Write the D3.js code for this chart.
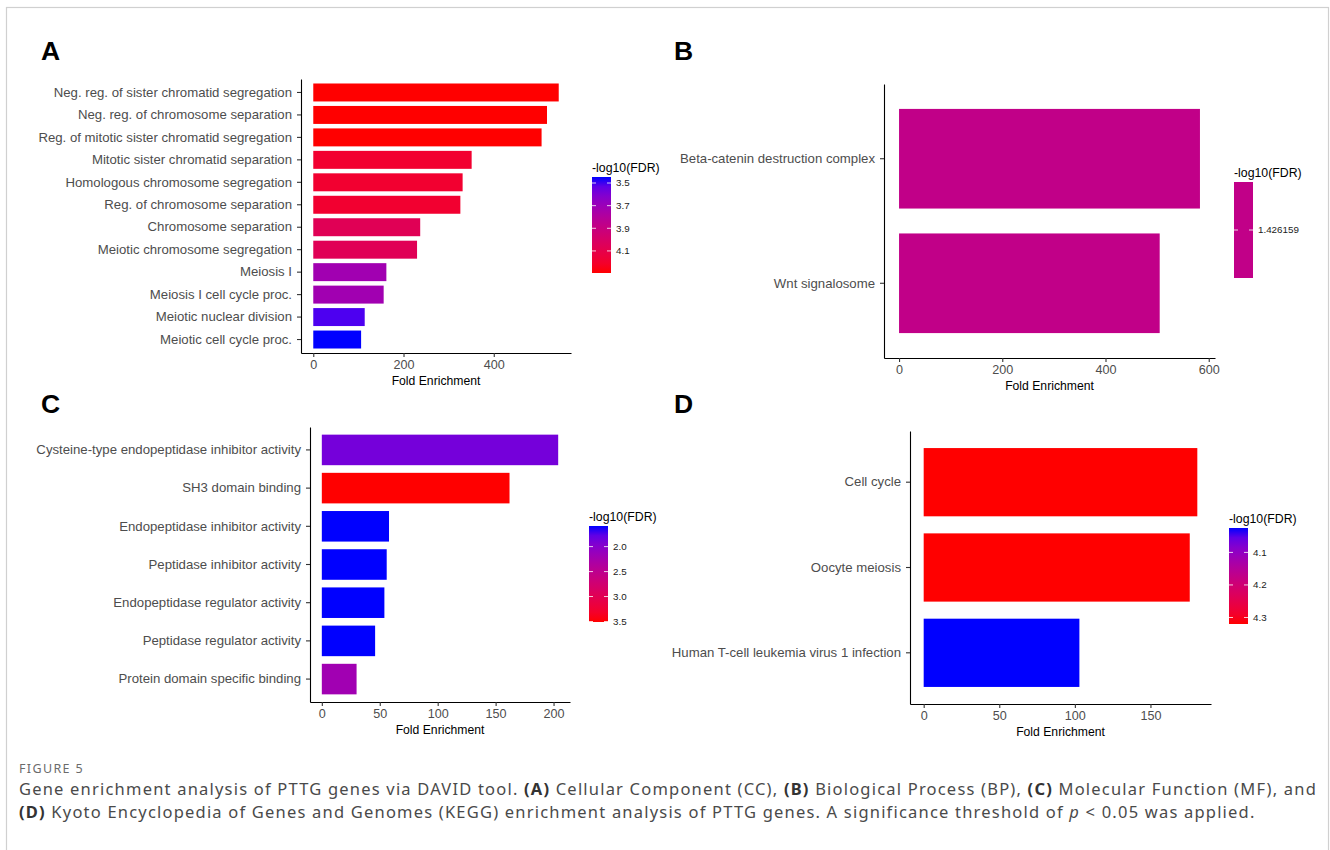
<!DOCTYPE html>
<html>
<head>
<meta charset="utf-8">
<script src="https://cdn.jsdelivr.net/npm/d3@7"></script>
<style>
body { margin: 0; background: #fff; }
svg text { font-family: "Liberation Sans", Arial, Helvetica, sans-serif; }
.caption text { font-family: "Noto Sans", "Open Sans", sans-serif; }
</style>
</head>
<body>
<svg id="fig" width="1330" height="850"></svg>
<script>
// ---- data ----
// A: Cellular Component
const catsA = ["Neg. reg. of sister chromatid segregation", "Neg. reg. of chromosome separation",
  "Reg. of mitotic sister chromatid segregation", "Mitotic sister chromatid separation",
  "Homologous chromosome segregation", "Reg. of chromosome separation", "Chromosome separation",
  "Meiotic chromosome segregation", "Meiosis I", "Meiosis I cell cycle proc.",
  "Meiotic nuclear division", "Meiotic cell cycle proc."];
const foldA = [544, 518, 506, 351, 331, 326, 237, 230, 162, 156, 114, 106];
const fdrA = [4.295, 4.295, 4.295, 4.19, 4.19, 4.19, 4.06, 4.06, 3.72, 3.72, 3.50, 3.447];
const ticksA = [0, 200, 400];
const legTicksA = [3.5, 3.7, 3.9, 4.1];

// B: Biological Process
const catsB = ["Beta-catenin destruction complex", "Wnt signalosome"];
const foldB = [583, 505];
const fdrB = [1.426159, 1.426159];
const ticksB = [0, 200, 400, 600];
const legTicksB = [1.426159];

// C: Molecular Function
const catsC = ["Cysteine-type endopeptidase inhibitor activity", "SH3 domain binding",
  "Endopeptidase inhibitor activity", "Peptidase inhibitor activity",
  "Endopeptidase regulator activity", "Peptidase regulator activity",
  "Protein domain specific binding"];
const foldC = [204, 162, 58, 56, 54, 46, 30];
const fdrC = [1.88, 3.51, 1.587, 1.587, 1.587, 1.587, 2.2];
const ticksC = [0, 50, 100, 150, 200];
const legTicksC = [2.0, 2.5, 3.0, 3.5];

// D: KEGG
const catsD = ["Cell cycle", "Oocyte meiosis", "Human T-cell leukemia virus 1 infection"];
const foldD = [181, 176, 103];
const fdrD = [4.32, 4.32, 4.025];
const ticksD = [0, 50, 100, 150];
const legTicksD = [4.1, 4.2, 4.3];

// panel layout (pixels on the page)
const panels = [
  {id: "A", cats: catsA, fold: foldA, fdr: fdrA, ticks: ticksA, legTicks: legTicksA,
   left: 301, right: 571, top: 79, bottom: 353, lx: 41, ly: 60, legX: 592, legTop: 177},
  {id: "B", cats: catsB, fold: foldB, fdr: fdrB, ticks: ticksB, legTicks: legTicksB,
   left: 884, right: 1215, top: 84, bottom: 358, lx: 674, ly: 60, legX: 1234, legTop: 182},
  {id: "C", cats: catsC, fold: foldC, fdr: fdrC, ticks: ticksC, legTicks: legTicksC,
   left: 310, right: 570, top: 427, bottom: 702, lx: 41, ly: 413, legX: 589, legTop: 526},
  {id: "D", cats: catsD, fold: foldD, fdr: fdrD, ticks: ticksD, legTicks: legTicksD,
   left: 910, right: 1211, top: 431, bottom: 704, lx: 674, ly: 413, legX: 1229, legTop: 528}
];

const svg = d3.select("#fig");
const defs = svg.append("defs");

// light frame around the figure
svg.append("rect")
  .attr("x", 6.5).attr("y", 7.5)
  .attr("width", 1322).attr("height", 900)
  .attr("fill", "none").attr("stroke", "#d0d0d0").attr("stroke-width", 1.2);

const drawPanel = function (p) {
  const g = svg.append("g").attr("class", "panel-" + p.id);

  const y = d3.scaleBand()
    .domain(p.cats)
    .range([p.top, p.bottom])
    .paddingInner(0.2)
    .paddingOuter(0.2);

  const m = d3.max(p.fold);
  const x = d3.scaleLinear()
    .domain([-0.05 * m, 1.05 * m])
    .range([p.left, p.right]);

  const color = d3.scaleLinear()
    .domain(d3.extent(p.fdr))
    .range(["blue", "red"])
    .interpolate(d3.interpolateLab);

  // bars
  g.selectAll("rect.bar")
    .data(p.cats)
    .join("rect")
    .attr("class", "bar")
    .attr("x", x(0))
    .attr("y", d => y(d))
    .attr("width", (d, i) => x(p.fold[i]) - x(0))
    .attr("height", y.bandwidth())
    .attr("fill", (d, i) => color(p.fdr[i]));

  // y axis
  const yAx = g.append("g")
    .attr("transform", `translate(${p.left},0)`)
    .call(d3.axisLeft(y).tickSize(4).tickPadding(5).tickSizeOuter(0));
  yAx.select(".domain").attr("stroke", "#000").attr("stroke-width", 1.1);
  yAx.selectAll(".tick line").attr("stroke", "#333").attr("stroke-width", 1.1);
  yAx.selectAll(".tick text")
    .attr("fill", "#4d4d4d")
    .style("font-size", "13.2px")
    .style("font-family", '"Liberation Sans", Arial, sans-serif');

  // x axis
  const xAx = g.append("g")
    .attr("transform", `translate(0,${p.bottom})`)
    .call(d3.axisBottom(x).tickValues(p.ticks).tickSize(4).tickPadding(3).tickSizeOuter(0));
  xAx.select(".domain").attr("stroke", "#000").attr("stroke-width", 1.1);
  xAx.selectAll(".tick line").attr("stroke", "#333").attr("stroke-width", 1.1);
  xAx.selectAll(".tick text")
    .attr("fill", "#4d4d4d")
    .style("font-size", "12.6px")
    .style("font-family", '"Liberation Sans", Arial, sans-serif');

  g.append("text")
    .attr("x", (p.left + p.right) / 2)
    .attr("y", p.bottom + 31.5)
    .attr("text-anchor", "middle")
    .attr("fill", "#000")
    .style("font-size", "12.2px")
    .text("Fold Enrichment");

  // panel letter
  g.append("text")
    .attr("x", p.lx).attr("y", p.ly)
    .style("font-size", "26.5px")
    .style("font-weight", "bold")
    .attr("fill", "#000")
    .text(p.id);

  // colour bar legend
  const barW = 19, barH = 96;
  const ext = d3.extent(p.fdr);
  const ls = d3.scaleLinear().domain(ext).range([p.legTop, p.legTop + barH]);
  const grad = defs.append("linearGradient")
    .attr("id", "grad" + p.id)
    .attr("x1", 0).attr("y1", 0).attr("x2", 0).attr("y2", 1);
  d3.range(0, 1.0001, 0.1).forEach(t => {
    grad.append("stop")
      .attr("offset", t)
      .attr("stop-color", color(ext[0] + t * (ext[1] - ext[0])));
  });
  g.append("text")
    .attr("x", p.legX).attr("y", p.legTop - 5.5)
    .attr("fill", "#000")
    .style("font-size", "12.3px")
    .text("-log10(FDR)");
  g.append("rect")
    .attr("x", p.legX).attr("y", p.legTop)
    .attr("width", barW).attr("height", barH)
    .attr("fill", `url(#grad${p.id})`);
  const lt = g.selectAll("g.legtick")
    .data(p.legTicks)
    .join("g")
    .attr("class", "legtick");
  lt.append("line")
    .attr("x1", p.legX).attr("x2", p.legX + 4)
    .attr("y1", d => ls(d)).attr("y2", d => ls(d))
    .attr("stroke", "#fff").attr("stroke-width", 0.8);
  lt.append("line")
    .attr("x1", p.legX + barW - 4).attr("x2", p.legX + barW)
    .attr("y1", d => ls(d)).attr("y2", d => ls(d))
    .attr("stroke", "#fff").attr("stroke-width", 0.8);
  lt.append("text")
    .attr("x", p.legX + barW + 5)
    .attr("y", d => ls(d))
    .attr("dy", "0.35em")
    .attr("fill", "#1a1a1a")
    .style("font-size", "9.8px")
    .text(d => p.id === "B" ? d3.format(".6f")(d) : d3.format(".1f")(d));
};

panels.forEach(drawPanel);

// ---- caption ----
const cap = svg.append("g").attr("class", "caption");
const figLab = cap.append("text")
  .attr("x", 19).attr("y", 773)
  .attr("fill", "#6b6b6b")
  .style("font-size", "12.5px")
  .text("FIGURE 5");
// widen the small heading by letter spacing to its width in the figure
figLab.style("letter-spacing", ((65 - figLab.node().getComputedTextLength()) / 8) + "px");

const line1 = [
  ["Gene enrichment analysis of PTTG genes via DAVID tool. ", "normal"],
  ["(A)", "bold"], [" Cellular Component (CC), ", "normal"],
  ["(B)", "bold"], [" Biological Process (BP), ", "normal"],
  ["(C)", "bold"], [" Molecular Function (MF), and", "normal"]
];
const line2 = [
  ["(D)", "bold"],
  [" Kyoto Encyclopedia of Genes and Genomes (KEGG) enrichment analysis of PTTG genes. A significance threshold of ", "normal"],
  ["p", "italic"], [" < 0.05 was applied.", "normal"]
];
const capLines = [[line1, 795], [line2, 818]].map(([parts, yy]) => {
  const t = cap.append("text")
    .attr("x", 19).attr("y", yy)
    .attr("fill", "#4a4a4a")
    .style("font-size", "16.5px");
  parts.forEach(([s, w]) => {
    t.append("tspan")
      .style("font-weight", w === "bold" ? "bold" : "normal")
      .style("font-style", w === "italic" ? "italic" : "normal")
      .attr("fill", w === "bold" ? "#333" : "#4a4a4a")
      .text(s);
  });
  return t;
});
// first caption line runs almost to the frame's right edge: spread letters to fit
const nChars = line1.map(d => d[0]).join("").length;
const capSpacing = (1298 - capLines[0].node().getComputedTextLength()) / nChars;
capLines.forEach(t => t.style("letter-spacing", capSpacing + "px"));
</script>
</body>
</html>
